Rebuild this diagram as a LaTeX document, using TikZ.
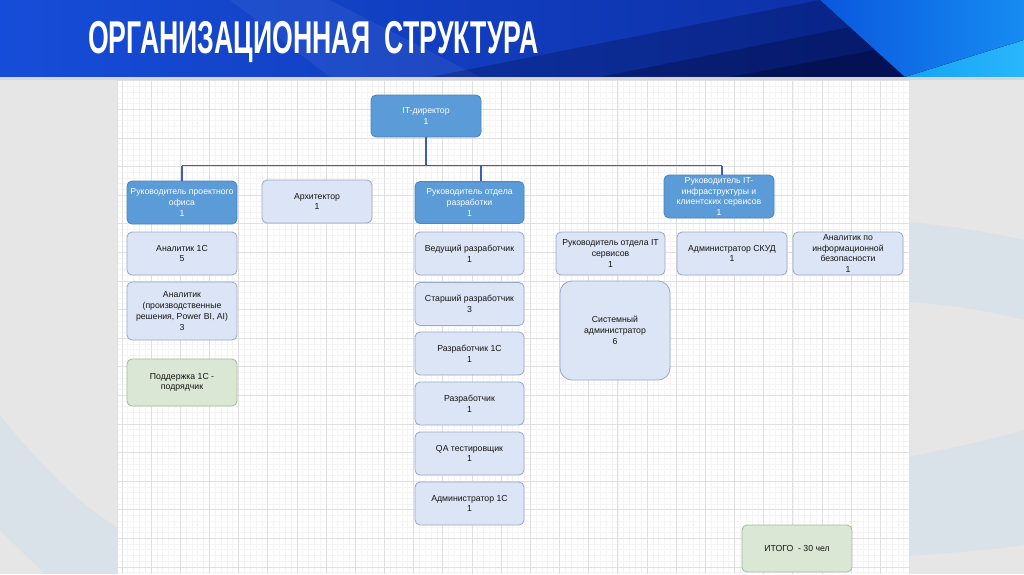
\documentclass[tikz,border=0pt]{standalone}
\usepackage{fontspec}
\setmainfont{Liberation Sans}
\definecolor{darkbox}{HTML}{5B9BD8}
\definecolor{darkboxb}{HTML}{4A85C4}
\definecolor{lightbox}{HTML}{DCE5F5}
\definecolor{lightboxb}{HTML}{97A7C7}
\definecolor{greenbox}{HTML}{D9E7D4}
\definecolor{greenboxb}{HTML}{A2BC93}
\definecolor{txt}{HTML}{141414}
\definecolor{linec}{HTML}{3D5DB3}
\definecolor{hdrA}{HTML}{164DD8}
\definecolor{hdrB}{HTML}{0B2A9E}
\definecolor{navy}{HTML}{010530}
\definecolor{hdrR1}{HTML}{0A57DD}
\definecolor{hdrR2}{HTML}{168CF2}
\definecolor{cyanA}{HTML}{14A2F6}
\definecolor{cyanB}{HTML}{2AB6FB}
\definecolor{bggray}{HTML}{E6E6E6}
\definecolor{swoosh}{HTML}{DAE2E9}
\definecolor{bandgray}{HTML}{D6D6D6}
\definecolor{gminor}{HTML}{F4F4F4}
\definecolor{gmajor}{HTML}{E0E0E0}
\begin{document}
\begin{tikzpicture}[x=1pt,y=-1pt,
  box/.style={rounded corners=5pt, line width=0.8pt, align=center, inner sep=1pt,
    font=\fontsize{8.7}{10.7}\selectfont, minimum width=110pt, minimum height=43pt},
  mgrbox/.style={box, fill=darkbox, draw=darkboxb, text=white},
  posbox/.style={box, fill=lightbox, draw=lightboxb, text=txt},
  extbox/.style={box, fill=greenbox, draw=greenboxb, text=txt},
  conn/.style={draw=linec, line width=1.7pt},
  gmin/.style={draw=gminor, line width=0.45pt},
  gmaj/.style={draw=gmajor, line width=0.6pt}]
\useasboundingbox (0,0) rectangle (1024,574);
% background
\fill[bggray] (0,0) rectangle (1024,574);
\fill[swoosh] (0,415) .. controls (40,465) and (80,505) .. (117,527) -- (117,574) -- (45,574) .. controls (25,555) .. (0,530) -- cycle;
\fill[swoosh] (909,222) .. controls (950,226) and (990,232) .. (1024,240) -- (1024,320) .. controls (990,311) and (950,305) .. (909,302) -- cycle;
\fill[swoosh] (909,457) .. controls (950,448) and (990,440) .. (1024,430) -- (1024,545) .. controls (990,550) and (950,553) .. (909,556) -- cycle;
% header
\fill[left color=hdrA, right color=hdrB] (0,0) rectangle (1024,77);
\fill[white, opacity=0.06] (230,0) -- (330,0) -- (480,77) -- (330,77) -- cycle;
\fill[navy, opacity=0.25] (430,77) -- (820,0) -- (905,77) -- cycle;
\fill[navy, opacity=0.3] (600,77) -- (850,27) -- (905,77) -- cycle;
\fill[navy, opacity=0.4] (730,77) -- (875,50) -- (905,77) -- cycle;
\fill[left color=hdrR1, right color=hdrR2] (820,0) -- (1024,0) -- (1024,40) -- (905,77) -- cycle;
\fill[left color=cyanA, right color=cyanB] (905,77) -- (1024,40) -- (1024,77) -- cycle;
\fill[bandgray] (0,77) rectangle (1024,80);
\node[anchor=base west, text=white, font=\fontsize{46}{46}\selectfont\bfseries, xscale=0.58, inner sep=0pt] (title) at (88,53) {ОРГАНИЗАЦИОННАЯ\ \ СТРУКТУРА};
% grid
\fill[white] (117,80) rectangle (909,574);
\begin{scope}
\clip (117,80) rectangle (909,574);
\foreach \i in {-6,...,136} \draw[gmin] ({151+\i*5.834},80) -- ({151+\i*5.834},574);
\foreach \i in {0,...,87} \draw[gmin] (117,{80.6+\i*5.72}) -- (909,{80.6+\i*5.72});
\foreach \i in {-2,...,27} \draw[gmaj] ({151+\i*29.17},80) -- ({151+\i*29.17},574);
\foreach \i in {0,...,17} \draw[gmaj] (117,{80.6+\i*28.6}) -- (909,{80.6+\i*28.6});
\end{scope}
\draw[draw=gmajor, line width=0.6pt] (117,80) -- (117,574) (909,80) -- (909,574);
% nodes
\node[mgrbox, minimum height=42pt] (dir) at (426,116) {IT-директор\\1};
\node[mgrbox] (pm) at (182,202.5) {Руководитель проектного\\офиса\\1};
\node[posbox] (arch) at (317,201.5) {Архитектор\\1};
\node[mgrbox, minimum width=109pt, minimum height=42pt] (dev) at (469.5,202.5) {Руководитель отдела\\разработки\\1};
\node[mgrbox, inner sep=0pt] (infra) at (719,196.5) {Руководитель IT-\\инфраструктуры и\\клиентских сервисов\\1};
\node[posbox] (a1c) at (182,253.5) {Аналитик 1С\\5};
\node[posbox, minimum height=58pt] (aprod) at (182,311) {Аналитик\\(производственные\\решения, Power BI, AI)\\3};
\node[extbox, minimum height=47pt] (sup) at (182,382.5) {Поддержка 1С -\\подрядчик};
\node[posbox, minimum width=109pt] (lead) at (469.5,253.5) {Ведущий разработчик\\1};
\node[posbox, minimum width=109pt] (senior) at (469.5,304) {Старший разработчик\\3};
\node[posbox, minimum width=109pt] (dev1c) at (469.5,353.5) {Разработчик 1С\\1};
\node[posbox, minimum width=109pt] (devr) at (469.5,403.5) {Разработчик\\1};
\node[posbox, minimum width=109pt] (qa) at (469.5,453.5) {QA тестировщик\\1};
\node[posbox, minimum width=109pt] (adm1c) at (469.5,503.5) {Администратор 1С\\1};
\node[posbox, minimum width=109pt] (itsvc) at (610.5,253.5) {Руководитель отдела IT\\сервисов\\1};
\node[posbox, minimum height=99pt, rounded corners=12pt] (sysadm) at (615,330.5) {Системный\\администратор\\6};
\node[posbox] (skud) at (732,253.5) {Администратор СКУД\\1};
\node[posbox, inner sep=0pt] (infosec) at (848,253.5) {Аналитик по\\информационной\\безопасности\\1};
\node[extbox, minimum height=47pt] (total) at (797,548.5) {ИТОГО\ \ - 30 чел};
% connectors
\coordinate (busL) at (182,165.5);
\coordinate (busR) at (722,165.5);
\draw[conn] (dir.south) -- (dir.south |- busL);
\draw[conn] (busL) -- (busR);
\draw[conn] (pm.north) -- (pm.north |- busL);
\draw[conn] ([xshift=11.5pt]dev.north) -- ([xshift=11.5pt]dev.north |- busL);
\draw[conn] ([xshift=3pt]infra.north) -- ([xshift=3pt]infra.north |- busR);
\end{tikzpicture}
\end{document}
